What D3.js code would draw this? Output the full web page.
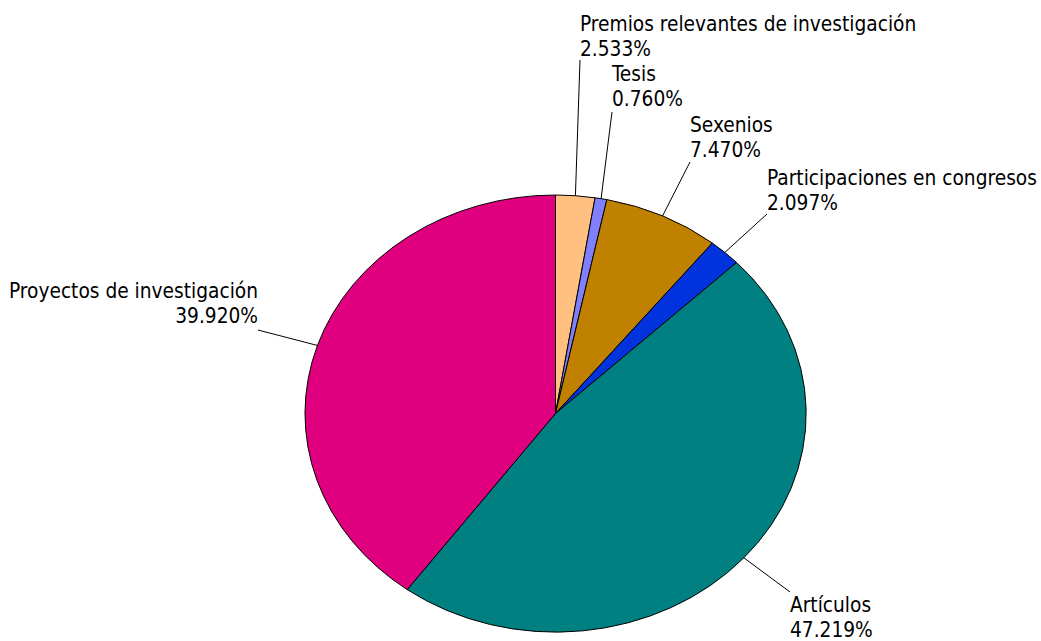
<!DOCTYPE html>
<html><head><meta charset="utf-8">
<script src="https://cdn.jsdelivr.net/npm/d3@7"></script>
<style>
html,body{margin:0;padding:0;background:#fff;}
svg text{font-family:"DejaVu Sans Condensed","DejaVu Sans",sans-serif;font-size:20.7px;fill:#000;}
</style></head>
<body>
<svg id="chart" width="1041" height="641"></svg>
<script>
const categories = ["Premios relevantes de investigación","Tesis","Sexenios","Participaciones en congresos","Artículos","Proyectos de investigación"];
const values = [2.533, 0.760, 7.470, 2.097, 47.219, 39.920];
const valueLabels = ["2.533%","0.760%","7.470%","2.097%","47.219%","39.920%"];
const colors = ["#FFC080","#8080FF","#C08000","#0033DD","#008080","#E0007F"];

// label layout: text anchor position, alignment, leader-line end
const labelLayout = [
  {x:580, y:31, anchor:"start", lx:580, ly:60},
  {x:612, y:81, anchor:"start", lx:612, ly:112},
  {x:690, y:132, anchor:"start", lx:690, ly:162},
  {x:767, y:185, anchor:"start", lx:767, ly:214},
  {x:790, y:612, anchor:"start", lx:790, ly:592},
  {x:258, y:298, anchor:"end", lx:258, ly:330}
];

const svg = d3.select("#chart");
const cx = 555.5, cy = 413.5, rx = 250.5, ry = 218.5;

const pie = d3.pie().sort(null).value(d => d.v).startAngle(0).endAngle(2*Math.PI);
const data = categories.map((c,i)=>({c, v:values[i], lab:valueLabels[i], col:colors[i], L:labelLayout[i]}));
const arcs = pie(data);
const arc = d3.arc().innerRadius(0).outerRadius(1);

const g = svg.append("g").attr("transform",`translate(${cx},${cy}) scale(${rx},${ry})`);
g.selectAll("path").data(arcs).join("path")
  .attr("d", arc)
  .attr("fill", d => d.data.col)
  .attr("stroke", "#000")
  .attr("stroke-width", 1)
  .attr("vector-effect", "non-scaling-stroke");

arcs.forEach(d => {
  const a = (d.startAngle + d.endAngle)/2;
  const px = cx + rx*Math.sin(a), py = cy - ry*Math.cos(a);
  svg.append("line").attr("x1",px).attr("y1",py).attr("x2",d.data.L.lx).attr("y2",d.data.L.ly)
    .attr("stroke","#000").attr("stroke-width",1);
  const t = svg.append("text").attr("text-anchor", d.data.L.anchor);
  t.append("tspan").attr("x", d.data.L.x).attr("y", d.data.L.y).text(d.data.c);
  t.append("tspan").attr("x", d.data.L.x).attr("dy", 24.5).text(d.data.lab);
});
</script>
</body></html>
